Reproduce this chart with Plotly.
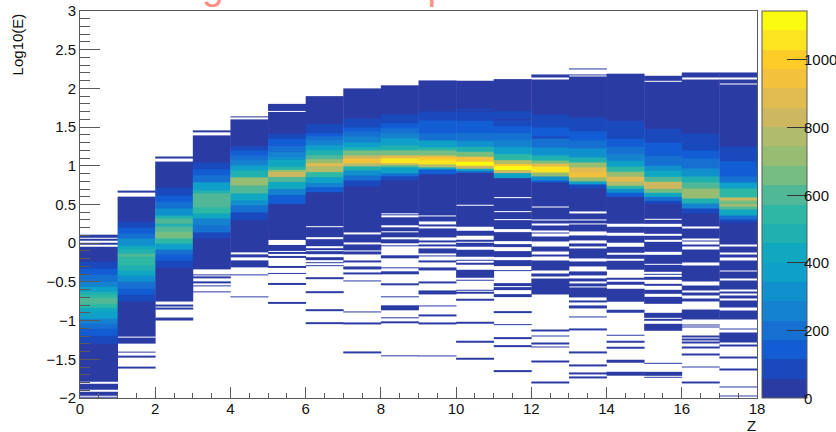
import plotly.graph_objects as go

# Colour contour levels (ROOT kBird-like, 20 levels)
LEVEL_COLORS = ["#2a3ba4", "#1a48bd", "#125cd4", "#1570d2", "#1582cf", "#1090cc", "#0ea0c8", "#10a8c0",
                "#20b0b0", "#2db8a5", "#50b896", "#75bd80", "#97bd72", "#b0bb6b", "#cdb85f", "#e0bb4f",
                "#f3c13c", "#fdcc28", "#fbe51f", "#fbfb10"]
Z_MAX = 1144
COLORBAR_TICKS = [0, 200, 400, 600, 800, 1000]

# Solid low-count region of every Z column: upper and lower Log10(E)
BLUE_TOP = [0.11, 0.598, 1.058, 1.398, 1.6, 1.8, 1.9, 2.0, 2.04, 2.103, 2.099, 2.12, 2.12, 2.155, 2.19, 2.163, 2.206, 2.206]
BLUE_BOTTOM = [-2.0, -1.303, -0.757, -0.335, -0.112, 0.039, -0.039, 0.004, -0.039, -0.254, -0.176, -0.297, -0.658, -0.658, -0.757, -0.778, -0.99, -0.985]

# Core of each column: band edges (descending) and the count inside each band
E00 = [-0.241, -0.327, -0.413, -0.499, -0.563, -0.628, -0.671, -0.701, -0.778, -0.83, -0.886, -0.972, -1.037, -1.101, -1.2, -1.303]
C00 = [85, 145, 200, 260, 370, 490, 545, 600, 545, 430, 370, 260, 200, 145, 85]
E01 = [0.284, 0.202, 0.125, 0.06, -0.026, -0.069, -0.133, -0.176, -0.284, -0.348, -0.413, -0.499, -0.585, -0.658, -0.757]
C01 = [85, 145, 200, 315, 430, 490, 600, 545, 490, 430, 315, 200, 145, 85]
E02 = [0.714, 0.619, 0.533, 0.447, 0.361, 0.318, 0.254, 0.219, 0.146, 0.06, -0.004, -0.082, -0.142, -0.228, -0.314]
C02 = [85, 145, 200, 315, 490, 600, 490, 600, 660, 545, 370, 200, 145, 85]
E03 = [1.041, 0.955, 0.877, 0.791, 0.684, 0.641, 0.469, 0.383, 0.318, 0.232, 0.146, 0.06]
C03 = [85, 145, 200, 370, 490, 600, 545, 430, 260, 200, 85]
E04 = [1.256, 1.2, 1.135, 1.071, 1.006, 0.942, 0.856, 0.748, 0.641, 0.555, 0.49, 0.404, 0.297]
C04 = [85, 145, 200, 260, 370, 490, 715, 600, 430, 315, 200, 85]
E05 = [1.415, 1.342, 1.256, 1.178, 1.114, 1.071, 0.985, 0.95, 0.92, 0.856, 0.791, 0.705, 0.619, 0.512]
C05 = [85, 145, 200, 260, 315, 430, 545, 715, 830, 600, 430, 260, 145]
E06 = [1.544, 1.424, 1.381, 1.329, 1.265, 1.2, 1.135, 1.08, 1.037, 0.994, 0.92, 0.856, 0.778, 0.718, 0.658]
C06 = [85, 145, 200, 260, 370, 490, 600, 715, 890, 775, 545, 370, 260, 145]
E07 = [1.609, 1.501, 1.449, 1.381, 1.308, 1.243, 1.2, 1.135, 1.092, 1.028, 0.994, 0.942, 0.877, 0.813, 0.74]
C07 = [85, 145, 200, 260, 370, 490, 660, 830, 945, 775, 490, 315, 200, 85]
E08 = [1.66, 1.544, 1.48, 1.415, 1.351, 1.265, 1.2, 1.135, 1.092, 1.037, 1.006, 0.976, 0.908, 0.865, 0.813]
C08 = [85, 145, 200, 260, 370, 490, 660, 890, 1060, 830, 600, 370, 200, 85]
E09 = [1.703, 1.587, 1.424, 1.329, 1.243, 1.2, 1.135, 1.105, 1.071, 1.019, 0.985, 0.951, 0.89]
C09 = [85, 145, 200, 370, 545, 660, 890, 1000, 1060, 775, 430, 145]
E10 = [1.742, 1.716, 1.703, 1.587, 1.424, 1.329, 1.243, 1.178, 1.114, 1.058, 0.998, 0.963, 0.942, 0.908]
C10 = [85, 30, 85, 145, 200, 315, 490, 660, 945, 1120, 830, 430, 200]
E11 = [1.703, 1.6, 1.587, 1.51, 1.424, 1.329, 1.243, 1.157, 1.08, 1.028, 0.994, 0.942, 0.908, 0.847]
C11 = [85, 30, 85, 145, 200, 260, 370, 545, 775, 1000, 1120, 830, 370]
E12 = [1.665, 1.501, 1.381, 1.351, 1.243, 1.135, 1.071, 1.028, 0.985, 0.908, 0.856, 0.813, 0.791]
C12 = [85, 145, 85, 200, 315, 490, 660, 890, 1060, 715, 315, 145]
E13 = [1.63, 1.449, 1.329, 1.222, 1.114, 1.049, 0.985, 0.92, 0.856, 0.804, 0.757, 0.705]
C13 = [85, 145, 200, 315, 490, 715, 890, 945, 715, 370, 85]
E14 = [1.587, 1.351, 1.243, 1.157, 1.071, 0.985, 0.92, 0.865, 0.791, 0.748, 0.705, 0.649, 0.598]
C14 = [85, 145, 200, 260, 370, 545, 715, 890, 775, 545, 315, 145]
E15 = [1.48, 1.295, 1.135, 1.006, 0.942, 0.856, 0.791, 0.705, 0.649, 0.598, 0.542, 0.503]
C15 = [85, 145, 200, 315, 430, 600, 830, 660, 430, 200, 85]
E16 = [1.415, 1.2, 1.092, 0.963, 0.856, 0.791, 0.705, 0.576, 0.512, 0.447, 0.383]
C16 = [85, 145, 200, 315, 490, 600, 715, 490, 260, 85]
E17 = [1.256, 1.062, 0.865, 0.791, 0.705, 0.589, 0.555, 0.503, 0.477, 0.434, 0.361, 0.305, 0.262]
C17 = [85, 145, 200, 370, 545, 830, 660, 775, 600, 430, 200, 85]
CORE_EDGES = [E00, E01, E02, E03, E04, E05, E06, E07, E08, E09, E10, E11, E12, E13, E14, E15, E16, E17]
CORE_COUNTS = [C00, C01, C02, C03, C04, C05, C06, C07, C08, C09, C10, C11, C12, C13, C14, C15, C16, C17]

# Empty Log10(E) ranges inside the solid region (high, low)
EMPTY = [
    [(0.073, 0.06), (0.03, 0.013), (-0.022, -0.043), (-1.789, -1.811), (-1.888, -1.923), (-1.965, -1.985)],
    [(-1.2, -1.217)],
    [],
    [],
    [],
    [(1.716, 1.70)],
    [(0.222, 0.205), (0.082, 0.056)],
    [(0.138, 0.116)],
    [(0.39, 0.375), (0.36, 0.34), (0.232, 0.211), (0.155, 0.142), (0.073, 0.047), (-0.005, -0.022)],
    [(0.355, 0.345), (0.284, 0.245), (0.219, 0.194), (0.073, 0.039), (0.004, -0.013), (-0.039, -0.069), (-0.133, -0.159), (-0.176, -0.219)],
    [(0.498, 0.48), (0.21, 0.16), (0.09, 0.05), (0.02, 0.0), (-0.04, -0.08)],
    [(0.6, 0.586), (0.42, 0.408), (0.315, 0.303), (0.176, 0.142), (0.03, -0.013), (-0.047, -0.1), (-0.176, -0.219)],
    [(2.138, 2.12), (0.48, 0.458), (0.305, 0.288), (0.254, 0.224), (0.168, 0.138), (0.125, 0.082), (0.017, -0.047), (-0.112, -0.146), (-0.168, -0.228), (-0.357, -0.391), (-0.43, -0.45)],
    [(0.413, 0.383), (0.31, 0.298), (0.254, 0.237), (0.146, 0.103), (0.03, -0.004), (-0.047, -0.065), (-0.198, -0.241), (-0.297, -0.37), (-0.413, -0.456), (-0.499, -0.52), (-0.555, -0.576)],
    [(0.31, 0.298), (0.258, 0.21), (0.138, 0.103), (0.004, -0.039), (-0.125, -0.146), (-0.198, -0.228), (-0.348, -0.443), (-0.469, -0.499), (-0.542, -0.594)],
    [(2.103, 2.086), (0.315, 0.303), (0.245, 0.21), (0.116, 0.09), (0.047, 0.017), (-0.112, -0.155), (-0.262, -0.284), (-0.37, -0.391), (-0.413, -0.434), (-0.469, -0.52), (-0.555, -0.606), (-0.65, -0.69)],
    [(2.14, 2.12), (0.21, 0.185), (0.06, 0.039), (0.017, -0.013), (-0.047, -0.082), (-0.254, -0.284), (-0.5, -0.542), (-0.606, -0.641), (-0.675, -0.714), (-0.757, -0.856)],
    [(2.14, 2.12), (2.06, 2.047), (-0.013, -0.039), (-0.125, -0.146), (-0.185, -0.219), (-0.348, -0.37), (-0.456, -0.477), (-0.6, -0.62), (-0.65, -0.67), (-0.714, -0.744), (-0.83, -0.865)],
]

# Isolated filled bins away from the solid region (high, low)
STRAY = [
    [],
    [(0.68, 0.66), (-1.402, -1.419), (-1.458, -1.484), (-1.6, -1.617)],
    [(1.12, 1.10), (-0.791, -0.813), (-0.83, -0.856), (-0.959, -1.002)],
    [(1.458, 1.435), (-0.4, -0.417), (-0.43, -0.456), (-0.499, -0.516), (-0.542, -0.559), (-0.619, -0.641)],
    [(1.639, 1.62), (-0.142, -0.185), (-0.219, -0.284), (-0.292, -0.314), (-0.40, -0.417), (-0.684, -0.701)],
    [(-0.026, -0.056), (-0.06, -0.1), (-0.112, -0.142), (-0.165, -0.19), (-0.297, -0.318), (-0.383, -0.40), (-0.512, -0.542), (-0.757, -0.778)],
    [(-0.06, -0.09), (-0.108, -0.142), (-0.185, -0.219), (-0.241, -0.254), (-0.284, -0.297), (-0.434, -0.46), (-0.619, -0.641), (-0.856, -0.882), (-1.015, -1.04)],
    [(-0.017, -0.056), (-0.06, -0.09), (-0.112, -0.142), (-0.219, -0.254), (-0.297, -0.34), (-0.378, -0.40), (-0.477, -0.499), (-0.886, -0.899), (-1.024, -1.045), (-1.402, -1.419)],
    [(-0.159, -0.198), (-0.305, -0.318), (-0.361, -0.40), (-0.52, -0.546), (-0.684, -0.701), (-0.804, -0.822), (-0.834, -0.865), (-0.959, -0.976), (-1.015, -1.035), (-1.45, -1.46)],
    [(-0.318, -0.357), (-0.5, -0.52), (-0.615, -0.658), (-0.8, -0.82), (-0.92, -0.946), (-1.02, -1.045), (-1.445, -1.462)],
    [(-0.21, -0.225), (-0.254, -0.275), (-0.348, -0.391), (-0.4, -0.447), (-0.477, -0.49), (-0.606, -0.62), (-0.632, -0.65), (-0.718, -0.744), (-1.02, -1.04), (-1.26, -1.28), (-1.484, -1.50)],
    [(-0.35, -0.365), (-0.52, -0.555), (-0.565, -0.6), (-0.658, -0.70), (-0.882, -0.899), (-1.045, -1.062), (-1.217, -1.239), (-1.32, -1.342), (-1.643, -1.665)],
    [(2.18, 2.138), (-1.114, -1.14), (-1.187, -1.204), (-1.286, -1.308), (-1.329, -1.35), (-1.518, -1.544), (-1.781, -1.806)],
    [(2.258, 2.245), (2.178, 2.165), (-0.665, -0.7), (-0.735, -0.77), (-0.8, -0.843), (-0.946, -0.96), (-1.10, -1.123), (-1.402, -1.42), (-1.561, -1.587), (-1.665, -1.69), (-1.716, -1.742)],
    [(-0.856, -0.899), (-1.183, -1.2), (-1.26, -1.286), (-1.342, -1.363), (-1.501, -1.544), (-1.66, -1.716)],
    [(-0.9, -0.96), (-0.976, -1.0), (-1.045, -1.135), (-1.544, -1.561), (-1.66, -1.716), (-1.72, -1.742)],
    [(-1.045, -1.062), (-1.07, -1.085), (-1.187, -1.217), (-1.232, -1.258), (-1.27, -1.29), (-1.338, -1.355), (-1.424, -1.45), (-1.587, -1.604), (-1.785, -1.806)],
    [(-1.1, -1.118), (-1.157, -1.282), (-1.303, -1.338), (-1.458, -1.484), (-1.617, -1.643), (-1.845, -1.858), (-1.961, -1.983)],
]

X_TICKS = list(range(0, 19, 2))
Y_TICKS = [-2, -1.5, -1, -0.5, 0, 0.5, 1, 1.5, 2, 2.5, 3]
Y_LABELS = ["\u22122", "\u22121.5", "\u22121", "\u22120.5", "0", "0.5", "1", "1.5", "2", "2.5", "3"]
TITLE = "Longitudinal Shape"
Y_TITLE = "Log10(E)"
X_TITLE = "Z"


def build_column(k):
    points = {BLUE_TOP[k], BLUE_BOTTOM[k]}
    points.update(CORE_EDGES[k])
    for a, b in EMPTY[k] + STRAY[k]:
        points.update((a, b))
    edges = sorted(points)
    values = []
    core_e = CORE_EDGES[k]
    for lo, hi in zip(edges[:-1], edges[1:]):
        mid = (lo + hi) / 2
        v = 12 if BLUE_BOTTOM[k] <= mid <= BLUE_TOP[k] else None
        if any(b <= mid <= a for a, b in EMPTY[k]):
            v = None
        if any(b <= mid <= a for a, b in STRAY[k]):
            v = 3
        for i, c in enumerate(CORE_COUNTS[k]):
            if core_e[i + 1] <= mid <= core_e[i]:
                v = c
        values.append([v])
    return edges, values


fig = go.Figure()
for k in range(18):
    y_edges, z_col = build_column(k)
    fig.add_trace(go.Heatmap(x=[k, k + 1], y=y_edges, z=z_col, coloraxis="coloraxis", hoverongaps=False))

n = len(LEVEL_COLORS)
scale = []
for i, col in enumerate(LEVEL_COLORS):
    scale += [[i / n, col], [(i + 1) / n, col]]

AXIS_COLOR = "#5a5a5a"
annotations = [
    dict(text=TITLE, xref="paper", yref="paper", x=0.081, y=1, yshift=2, xanchor="left", yanchor="bottom",
         showarrow=False, font=dict(size=39, color="#ff8f88")),
    dict(text=Y_TITLE, xref="paper", yref="paper", x=-0.0925, y=1, xanchor="center", yanchor="top",
         textangle=-90, showarrow=False, font=dict(size=15, color="#111111")),
    dict(text=X_TITLE, xref="paper", yref="paper", x=0.9915, y=-0.044, xanchor="center", yanchor="top",
         showarrow=False, font=dict(size=15, color="#111111")),
]
for t in COLORBAR_TICKS:
    annotations.append(dict(text=str(t), xref="paper", yref="paper", x=1.067, y=t / Z_MAX, xanchor="left",
                            yanchor="middle", showarrow=False, font=dict(size=15, color="#111111")))

fig.update_layout(
    width=836, height=432,
    margin=dict(l=80.3, r=79.3, t=10.5, b=34, autoexpand=False, pad=0),
    paper_bgcolor="white", plot_bgcolor="white",
    font=dict(family="Liberation Sans, Arial, sans-serif", color="#111111", size=15),
    showlegend=False,
    coloraxis=dict(
        colorscale=scale, cmin=0, cmax=Z_MAX,
        colorbar=dict(
            x=1.0068, xanchor="left", xpad=0, ypad=0, y=0, yanchor="bottom", len=1, lenmode="fraction",
            thickness=45, thicknessmode="pixels",
            tickmode="array", tickvals=COLORBAR_TICKS, showticklabels=False,
            ticks="inside", ticklen=20, tickcolor="#333333", tickwidth=1,
            outlinecolor=AXIS_COLOR, outlinewidth=1,
        ),
    ),
    xaxis=dict(
        range=[0, 18], tickmode="array", tickvals=X_TICKS, ticks="inside", ticklen=11, tickwidth=1, tickcolor=AXIS_COLOR,
        minor=dict(dtick=0.5, ticks="inside", ticklen=5, tickwidth=1, tickcolor=AXIS_COLOR, showgrid=False),
        showgrid=False, zeroline=False, showline=True, mirror=True, linecolor=AXIS_COLOR, linewidth=1,
        tickfont=dict(size=15), ticklabelstandoff=-3,
    ),
    yaxis=dict(
        range=[-2, 3], tickmode="array", tickvals=Y_TICKS, ticktext=Y_LABELS, ticks="inside", ticklen=20, tickwidth=1, tickcolor=AXIS_COLOR,
        minor=dict(dtick=0.1, ticks="inside", ticklen=10, tickwidth=1, tickcolor=AXIS_COLOR, showgrid=False),
        showgrid=False, zeroline=False, showline=True, mirror=True, linecolor=AXIS_COLOR, linewidth=1,
        tickfont=dict(size=15),
    ),
    annotations=annotations,
)
fig.write_html("out.html", config=dict(displayModeBar=False),
               post_script="document.body.style.margin='0';document.documentElement.style.overflow='hidden';")
